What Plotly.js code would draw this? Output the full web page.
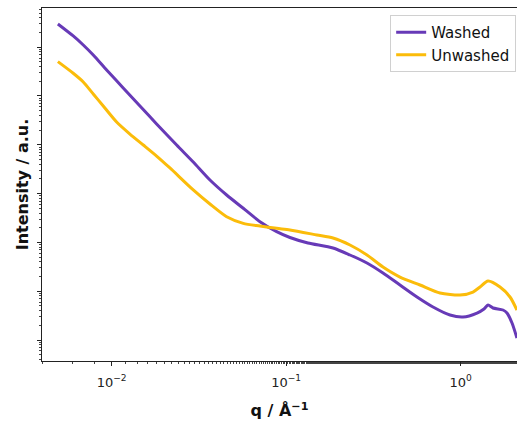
<!DOCTYPE html>
<html>
<head>
<meta charset="utf-8">
<script src="https://cdn.plot.ly/plotly-3.0.1.min.js"></script>
<style>html,body{margin:0;padding:0;background:#fff;}#chart{width:517px;height:421px;}</style>
</head>
<body>
<div id="chart"></div>
<script>
var washedQ = [0.00492,0.006024,0.006877,0.007846,0.009362,0.01165,0.01453,0.01810,0.02358,0.02935,0.03659,0.04560,0.05678,0.07077,0.08822,0.1051,0.1333,0.1855,0.2321,0.2904,0.3587,0.4488,0.5617,0.6940,0.8685,1.031,1.240,1.360,1.434,1.531,1.747,1.842,1.968,2.10];
var washedI = [2.99e6,1.70e6,1.11e6,6.92e5,3.41e5,1.46e5,6.24e4,2.67e4,9.91e3,4.44e3,1.90e3,936,500,266,166,126,97.2,76.8,55.2,37.8,23.6,13.4,7.61,4.75,3.25,2.96,3.57,4.32,5.21,4.53,4.12,3.57,2.23,1.10];
var unwashedQ = [0.00492,0.006024,0.006877,0.007846,0.008952,0.01068,0.01273,0.01518,0.01810,0.02158,0.02935,0.03659,0.04560,0.05678,0.07077,0.08822,0.1051,0.150,0.1855,0.2321,0.2904,0.3587,0.4488,0.5846,0.761,0.991,1.176,1.290,1.434,1.680,1.917,2.10];
var unwashedI = [5.05e5,2.92e5,1.94e5,1.10e5,6.24e4,2.93e4,1.66e4,9.91e3,5.89e3,3.35e3,1.19e3,612,336,246,217,194,180,142,123,88.5,55.2,31.3,19.5,13.4,9.19,8.36,9.63,12.2,16.2,12.2,7.61,4.12];
var xTickVals = [0.01,0.1,1];
var xTickText = ['10<sup>\u22122</sup>','10<sup>\u22121</sup>','10<sup>0</sup>'];
var seriesNames = ['Washed','Unwashed'];

var traces = [
  {x: washedQ, y: washedI, name: seriesNames[0], mode:'lines', line:{color:'#673ab7', width:3, shape:'spline', smoothing:0.7}},
  {x: unwashedQ, y: unwashedI, name: seriesNames[1], mode:'lines', line:{color:'#fbbc0a', width:3, shape:'spline', smoothing:0.7}}
];
var layout = {
  width:517, height:421,
  margin:{l:42, r:0, t:8, b:60, autoexpand:false},
  paper_bgcolor:'#fff', plot_bgcolor:'#fff',
  font:{family:'DejaVu Sans', size:12, color:'#222'},
  showlegend:true,
  legend:{x:0.733, y:0.98, xanchor:'left', yanchor:'top', bgcolor:'rgba(255,255,255,0.8)', bordercolor:'#d0d0d0', borderwidth:1, font:{family:'DejaVu Sans', size:15, color:'#111'}, tracegroupgap:0},
  xaxis:{type:'log', range:[-2.399, 0.3226], showgrid:false, zeroline:false, showline:true, linecolor:'#222', linewidth:1, mirror:true, automargin:false,
    tickmode:'array', tickvals:xTickVals, ticktext:xTickText, ticks:'outside', ticklen:4, tickcolor:'#222', ticklabelstandoff:5, tickfont:{family:'DejaVu Sans', size:13, color:'#222'},
    minor:{ticks:'outside', ticklen:2, tickcolor:'#444', showgrid:false},
    title:{text:'<b>q / Å<sup>\u22121</sup></b>', font:{family:'DejaVu Sans', size:16, color:'#111'}, standoff:16}},
  yaxis:{type:'log', range:[-0.430, 6.803], showgrid:false, zeroline:false, showline:true, linecolor:'#222', linewidth:1, mirror:true, automargin:false,
    dtick:1, showticklabels:false, ticks:'outside', ticklen:4, tickcolor:'#222',
    minor:{ticks:'outside', ticklen:2, tickcolor:'#444', showgrid:false},
    title:{text:'<b>Intensity / a.u.</b>', font:{family:'DejaVu Sans', size:16, color:'#111'}, standoff:4}}
};
Plotly.newPlot('chart', traces, layout, {displayModeBar:false, staticPlot:true});
</script>
</body>
</html>
